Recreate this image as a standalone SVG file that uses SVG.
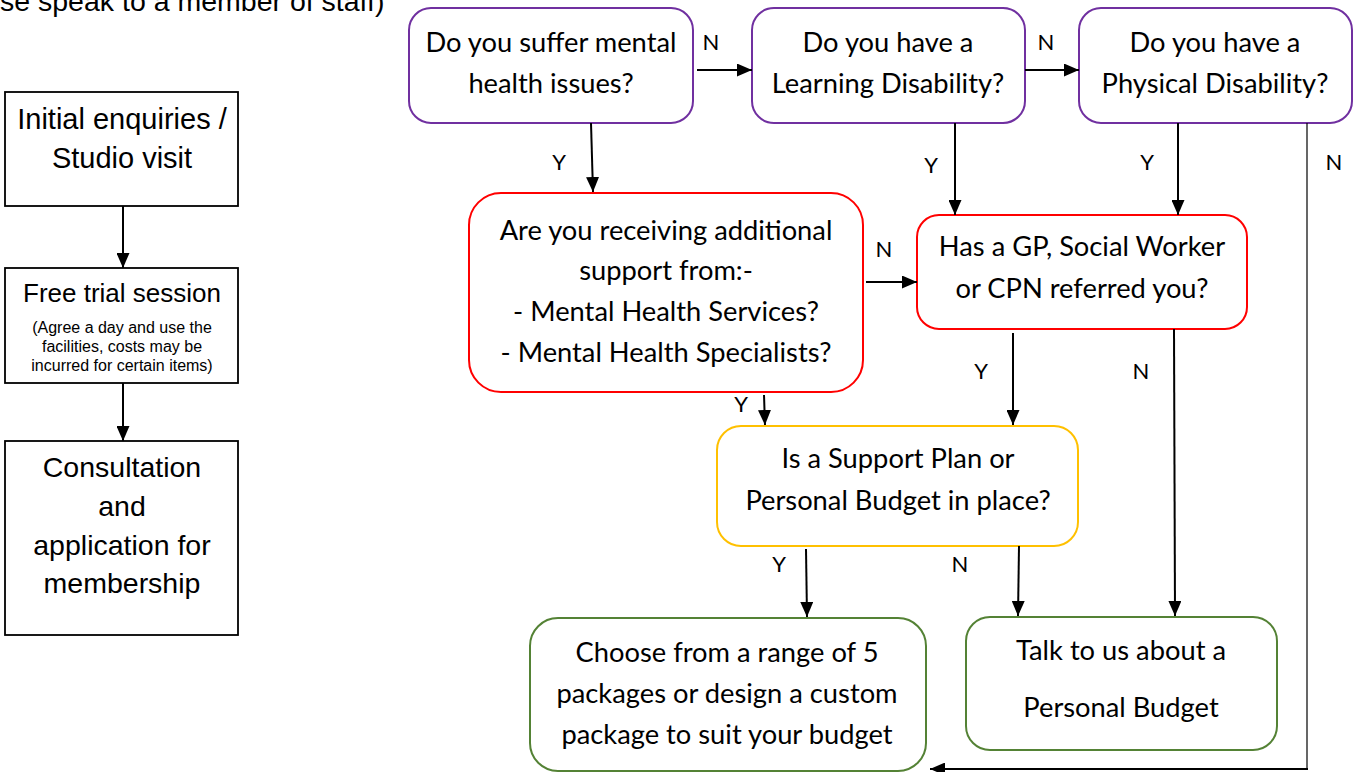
<svg xmlns="http://www.w3.org/2000/svg" width="1359" height="772" viewBox="0 0 1359 772">
<defs>
<marker id="ah" viewBox="0 0 15 13" refX="15" refY="6.5" markerWidth="15" markerHeight="13" markerUnits="userSpaceOnUse" orient="auto">
<path d="M0,0 L15,6.5 L0,13 z" fill="#000"/>
</marker>
<style>
.box{fill:#fff;stroke:#000;stroke-width:1.8}
.rn{fill:#fff;stroke-width:2}
.pur{stroke:#7030A0}
.red{stroke:#FF0000}
.yel{stroke:#FFC000}
.grn{stroke:#548235}
.ta{font-family:"Liberation Sans",Arial,sans-serif;fill:#000;text-anchor:middle}
.tc{font-family:Lato,"Open Sans",sans-serif;fill:#000;text-anchor:middle;font-size:27.3px}
.lb{font-family:Lato,"Open Sans",sans-serif;fill:#000;text-anchor:middle;font-size:22px}
.cn{stroke:#000;stroke-width:2;fill:none;marker-end:url(#ah)}
</style>
</defs>
<rect width="1359" height="772" fill="#fff"/>
<text x="0" y="11" font-family="Liberation Sans,Arial,sans-serif" font-size="28.5" fill="#000">se speak to a member of staff)</text>

<g id="n-initial">
<rect class="box" x="5" y="92" width="233" height="114"/>
<text class="ta" font-size="29" x="122" y="129">Initial enquiries /</text>
<text class="ta" font-size="29" x="122" y="168">Studio visit</text>
</g>
<g id="n-trial">
<rect class="box" x="5" y="268" width="233" height="115"/>
<text class="ta" font-size="26" x="122" y="302">Free trial session</text>
<text class="ta" font-size="16" x="122" y="333">(Agree a day and use the</text>
<text class="ta" font-size="16" x="122" y="352">facilities, costs may be</text>
<text class="ta" font-size="16" x="122" y="371">incurred for certain items)</text>
</g>
<g id="n-consult">
<rect class="box" x="5" y="441" width="233" height="194"/>
<text class="ta" font-size="28.5" x="122" y="477">Consultation</text>
<text class="ta" font-size="28.5" x="122" y="516">and</text>
<text class="ta" font-size="28.5" x="122" y="555">application for</text>
<text class="ta" font-size="28.5" x="122" y="593">membership</text>
</g>

<g id="n-mental">
<rect class="rn pur" x="409" y="8" width="284" height="115" rx="22"/>
<text class="tc" x="551" y="52">Do you suffer mental</text>
<text class="tc" x="551" y="93">health issues?</text>
</g>
<g id="n-learning">
<rect class="rn pur" x="752" y="8" width="273" height="115" rx="22"/>
<text class="tc" x="888" y="52">Do you have a</text>
<text class="tc" x="888" y="93">Learning Disability?</text>
</g>
<g id="n-physical">
<rect class="rn pur" x="1079" y="8" width="273" height="115" rx="22"/>
<text class="tc" x="1215" y="52">Do you have a</text>
<text class="tc" x="1215" y="93">Physical Disability?</text>
</g>
<g id="n-support">
<rect class="rn red" x="469" y="193" width="394" height="199" rx="32"/>
<text class="tc" x="666" y="240">Are you receiving additional</text>
<text class="tc" x="666" y="280">support from:-</text>
<text class="tc" x="666" y="321">- Mental Health Services?</text>
<text class="tc" x="666" y="362">- Mental Health Specialists?</text>
</g>
<g id="n-referred">
<rect class="rn red" x="917" y="215" width="330" height="114" rx="22"/>
<text class="tc" x="1082" y="256">Has a GP, Social Worker</text>
<text class="tc" x="1082" y="298">or CPN referred you?</text>
</g>
<g id="n-plan">
<rect class="rn yel" x="717" y="426" width="361" height="120" rx="24"/>
<text class="tc" x="898" y="468">Is a Support Plan or</text>
<text class="tc" x="898" y="510">Personal Budget in place?</text>
</g>
<g id="n-choose">
<rect class="rn grn" x="530" y="618" width="396" height="153" rx="28"/>
<text class="tc" x="727" y="662">Choose from a range of 5</text>
<text class="tc" x="727" y="703">packages or design a custom</text>
<text class="tc" x="727" y="744">package to suit your budget</text>
</g>
<g id="n-talk">
<rect class="rn grn" x="966" y="617" width="311" height="133" rx="24"/>
<text class="tc" x="1121" y="660">Talk to us about a</text>
<text class="tc" x="1121" y="717">Personal Budget</text>
</g>

<g id="connectors">
<line class="cn" x1="123" y1="206" x2="123" y2="268"/>
<line class="cn" x1="123" y1="383" x2="123" y2="441"/>
<line class="cn" x1="697" y1="70" x2="752" y2="70"/>
<line class="cn" x1="1025" y1="70" x2="1079" y2="70"/>
<line class="cn" x1="591" y1="123" x2="593" y2="192"/>
<line class="cn" x1="955" y1="123" x2="955" y2="215"/>
<line class="cn" x1="1178" y1="123" x2="1178" y2="215"/>
<line class="cn" x1="866" y1="282" x2="917" y2="282"/>
<line class="cn" x1="764" y1="395" x2="765" y2="425"/>
<line class="cn" x1="1013" y1="333" x2="1013" y2="425"/>
<line class="cn" x1="1174" y1="329" x2="1175" y2="616"/>
<line class="cn" x1="806" y1="549" x2="807" y2="617"/>
<line class="cn" x1="1019" y1="546" x2="1018" y2="616"/>
<line x1="1307" y1="123" x2="1307" y2="770" stroke="#000" stroke-width="1.2"/>
<line class="cn" x1="1308" y1="769" x2="930" y2="769"/>
<text class="lb" x="711" y="50">N</text>
<text class="lb" x="1046" y="50">N</text>
<text class="lb" x="559" y="170">Y</text>
<text class="lb" x="931" y="173">Y</text>
<text class="lb" x="1147" y="170">Y</text>
<text class="lb" x="1334" y="170">N</text>
<text class="lb" x="884" y="257">N</text>
<text class="lb" x="741" y="412">Y</text>
<text class="lb" x="981" y="379">Y</text>
<text class="lb" x="1141" y="379">N</text>
<text class="lb" x="779" y="572">Y</text>
<text class="lb" x="960" y="572">N</text>
</g>
</svg>
